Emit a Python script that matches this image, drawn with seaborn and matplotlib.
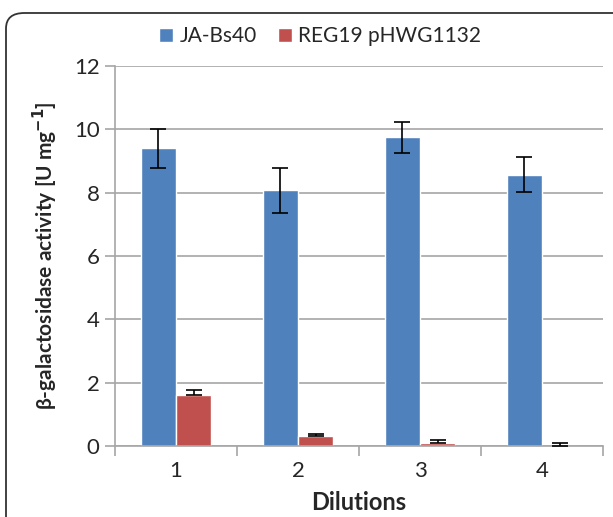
import matplotlib
matplotlib.use("Agg")
import matplotlib.pyplot as plt
import seaborn as sns
import pandas as pd
import numpy as np
from matplotlib.patches import FancyBboxPatch

categories = ["1", "2", "3", "4"]
series_names = ["JA-Bs40", "REG19 pHWG1132"]
ja_values = [9.40, 8.07, 9.75, 8.57]
ja_errors = [0.62, 0.70, 0.49, 0.55]
reg_values = [1.62, 0.31, 0.09, 0.01]
reg_errors = [0.16, 0.06, 0.09, 0.09]
y_ticks = [0, 2, 4, 6, 8, 10, 12]

sns.set_style("white")
plt.rcParams["font.family"] = ["Lato", "DejaVu Sans"]

df = pd.DataFrame({
    "Dilutions": categories * 2,
    "value": ja_values + reg_values,
    "err": ja_errors + reg_errors,
    "series": [series_names[0]] * 4 + [series_names[1]] * 4,
})

fig = plt.figure(figsize=(6.13, 5.17), dpi=100)
ax = fig.add_axes([115 / 613, (517 - 446) / 517, (603 - 115) / 613, (446 - 66) / 517])

colors = ["#4F81BD", "#C0504D"]
sns.barplot(data=df, x="Dilutions", y="value", hue="series", order=categories,
            hue_order=series_names, palette=colors, width=0.575, errorbar=None,
            saturation=1, ax=ax, legend=True)

# error bars at bar centers (second series: upper only, as in the reference)
for i, (cont, name) in enumerate(zip(ax.containers, series_names)):
    sub = df[df.series == name].set_index("Dilutions").loc[categories]
    xs = [p.get_x() + p.get_width() / 2 for p in cont.patches]
    hs = [p.get_height() for p in cont.patches]
    e = sub["err"].values
    yerr = e if i == 0 else [np.zeros_like(e), e]
    ax.errorbar(xs, hs, yerr=yerr, fmt="none", ecolor="black",
                elinewidth=1.2, capsize=5.5, capthick=1.2, zorder=5)

ax.set_xlim(-0.5, 3.5)
ax.set_ylim(0, 12)
ax.set_yticks(y_ticks)
ax.yaxis.grid(True, color="#A6A6A6", linewidth=1.2)
ax.set_axisbelow(True)
for s in ["top", "right"]:
    ax.spines[s].set_visible(False)
for s in ["left", "bottom"]:
    ax.spines[s].set_color("#A6A6A6")
    ax.spines[s].set_linewidth(1.2)

ax.set_xticks(range(4))
ax.set_xticklabels(categories)
ax.set_xticks(np.arange(-0.5, 4.0, 1.0), minor=True)
ax.tick_params(axis="x", which="major", length=0, pad=11, labelsize=16)
ax.tick_params(axis="x", which="minor", length=7, width=1.2, color="#A6A6A6", direction="out")
ax.tick_params(axis="y", length=7, width=1.2, color="#A6A6A6", direction="out", labelsize=16, pad=4)
ax.tick_params(axis="both", bottom=True, left=True, which="both")

ax.set_xlabel("Dilutions", fontsize=17, fontweight="bold", labelpad=7)
ax.set_ylabel(r"β-galactosidase activity [U mg$^{\mathbf{-1}}$]", fontsize=15,
              fontweight="bold", labelpad=10)

leg = ax.legend(loc="lower center", bbox_to_anchor=(0.42, 1.03), ncol=2, frameon=False,
                fontsize=15, handlelength=0.7, handleheight=0.7, handletextpad=0.3,
                columnspacing=1.0, borderaxespad=0)

border = FancyBboxPatch((6 / 613, -0.2), 1.2, (517 - 13) / 517 + 0.2,
                        boxstyle="round,pad=0,rounding_size=0.03",
                        transform=fig.transFigure, fill=False, edgecolor="#333333",
                        linewidth=1.3, clip_on=False)
fig.patches.append(border)

fig.savefig("out.png", dpi=100)
